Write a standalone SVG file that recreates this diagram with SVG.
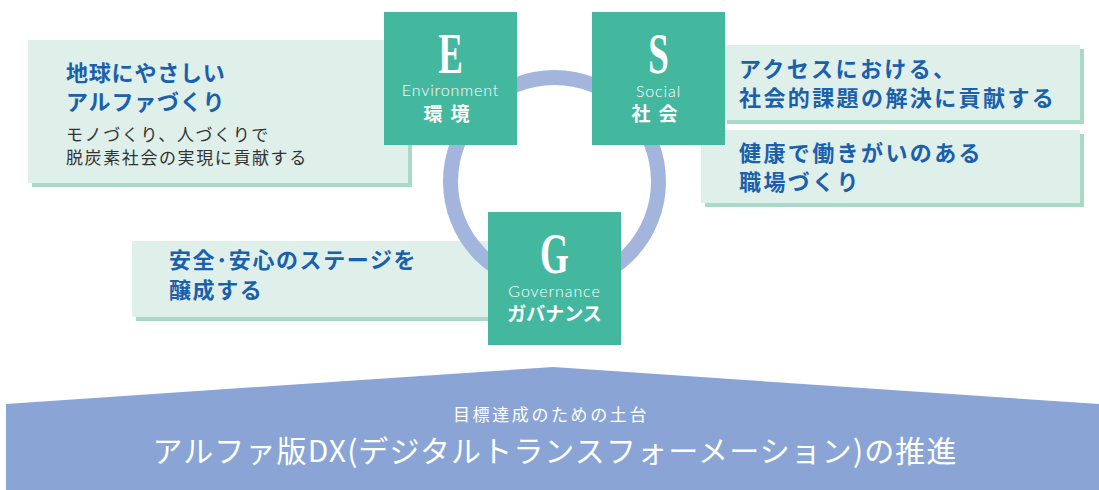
<svg xmlns="http://www.w3.org/2000/svg" width="1099" height="490" viewBox="0 0 1099 490">
<style>
.shadow{fill:#a9d9c7}
.light{fill:#dfefea}
.teal{fill:#43b89e}
.blue{font-family:"Noto Sans CJK JP",sans-serif;font-size:22px;font-weight:700;fill:#1a60ad}
.gray{font-family:"Noto Sans CJK JP",sans-serif;font-size:17px;fill:#333333;letter-spacing:1.6px}
.big{font-family:"Liberation Serif",serif;font-size:56px;font-weight:700;fill:#ffffff}
.en{font-family:"Lato","Liberation Sans",sans-serif;font-weight:300;font-size:16px;fill:#ffffff;letter-spacing:0.9px}
.jp{font-family:"Noto Sans CJK JP",sans-serif;font-weight:700;font-size:19px;fill:#ffffff}
.foot{font-family:"Noto Sans CJK JP",sans-serif;fill:#ffffff}
</style>
<rect width="1099" height="490" fill="#ffffff"/>
<g id="base">
<polygon points="6,404 553,367 1099,404 1099,490 6,490" fill="#8aa5d5"/>
<text class="foot" x="551" y="421" font-size="17" letter-spacing="2.6" text-anchor="middle">目標達成のための土台</text>
<text class="foot" x="555" y="462" font-size="30" letter-spacing="1.1" text-anchor="middle">アルファ版DX(デジタルトランスフォーメーション)の推進</text>
</g>
<g id="env-text">
<rect class="shadow" x="32" y="44" width="380" height="143"/>
<rect class="light" x="28" y="40" width="380" height="143"/>
<text class="blue" x="66" y="81" letter-spacing="0.8">地球にやさしい</text>
<text class="blue" x="66" y="110" letter-spacing="0.8">アルファづくり</text>
<text class="gray" x="66" y="141">モノづくり、人づくりで</text>
<text class="gray" x="66" y="164">脱炭素社会の実現に貢献する</text>
</g>
<g id="social-text-1">
<rect class="shadow" x="727" y="49" width="357" height="75"/>
<rect class="light" x="723" y="45" width="357" height="75"/>
<text class="blue" x="739" y="77" letter-spacing="2.4">アクセスにおける、</text>
<text class="blue" x="739" y="106" letter-spacing="2.4">社会的課題の解決に貢献する</text>
</g>
<g id="social-text-2">
<rect class="shadow" x="705" y="134" width="379" height="73"/>
<rect class="light" x="701" y="130" width="379" height="73"/>
<text class="blue" x="739" y="161" letter-spacing="2.4">健康で働きがいのある</text>
<text class="blue" x="739" y="190" letter-spacing="2.4">職場づくり</text>
</g>
<g id="gov-text">
<rect class="shadow" x="136" y="245" width="352" height="76"/>
<rect class="light" x="132" y="241" width="356" height="76"/>
<text class="blue" x="169" y="268" letter-spacing="1.6">安全･安心のステージを</text>
<text class="blue" x="169" y="298" letter-spacing="1.6">醸成する</text>
</g>
<g id="connectors">
<circle cx="554.5" cy="181.5" r="104" fill="none" stroke="#a3b5dd" stroke-width="15"/>
</g>
<g id="E">
<rect class="teal" x="384" y="12" width="133" height="133"/>
<text class="big" transform="translate(450.5,73) scale(0.66,1)" text-anchor="middle">E</text>
<text class="en" x="450.5" y="96" text-anchor="middle">Environment</text>
<text class="jp" x="450.5" y="121" text-anchor="middle" letter-spacing="8">環境</text>
</g>
<g id="S">
<rect class="teal" x="592" y="12" width="133" height="133"/>
<text class="big" transform="translate(658.5,73) scale(0.66,1)" text-anchor="middle">S</text>
<text class="en" x="658.5" y="97" text-anchor="middle">Social</text>
<text class="jp" x="658.5" y="121" text-anchor="middle" letter-spacing="8">社会</text>
</g>
<g id="G">
<rect class="teal" x="488" y="212" width="133" height="133"/>
<text class="big" transform="translate(554.5,273) scale(0.66,1)" text-anchor="middle">G</text>
<text class="en" x="554.5" y="297" text-anchor="middle">Governance</text>
<text class="jp" x="554.5" y="321" text-anchor="middle">ガバナンス</text>
</g>
</svg>
